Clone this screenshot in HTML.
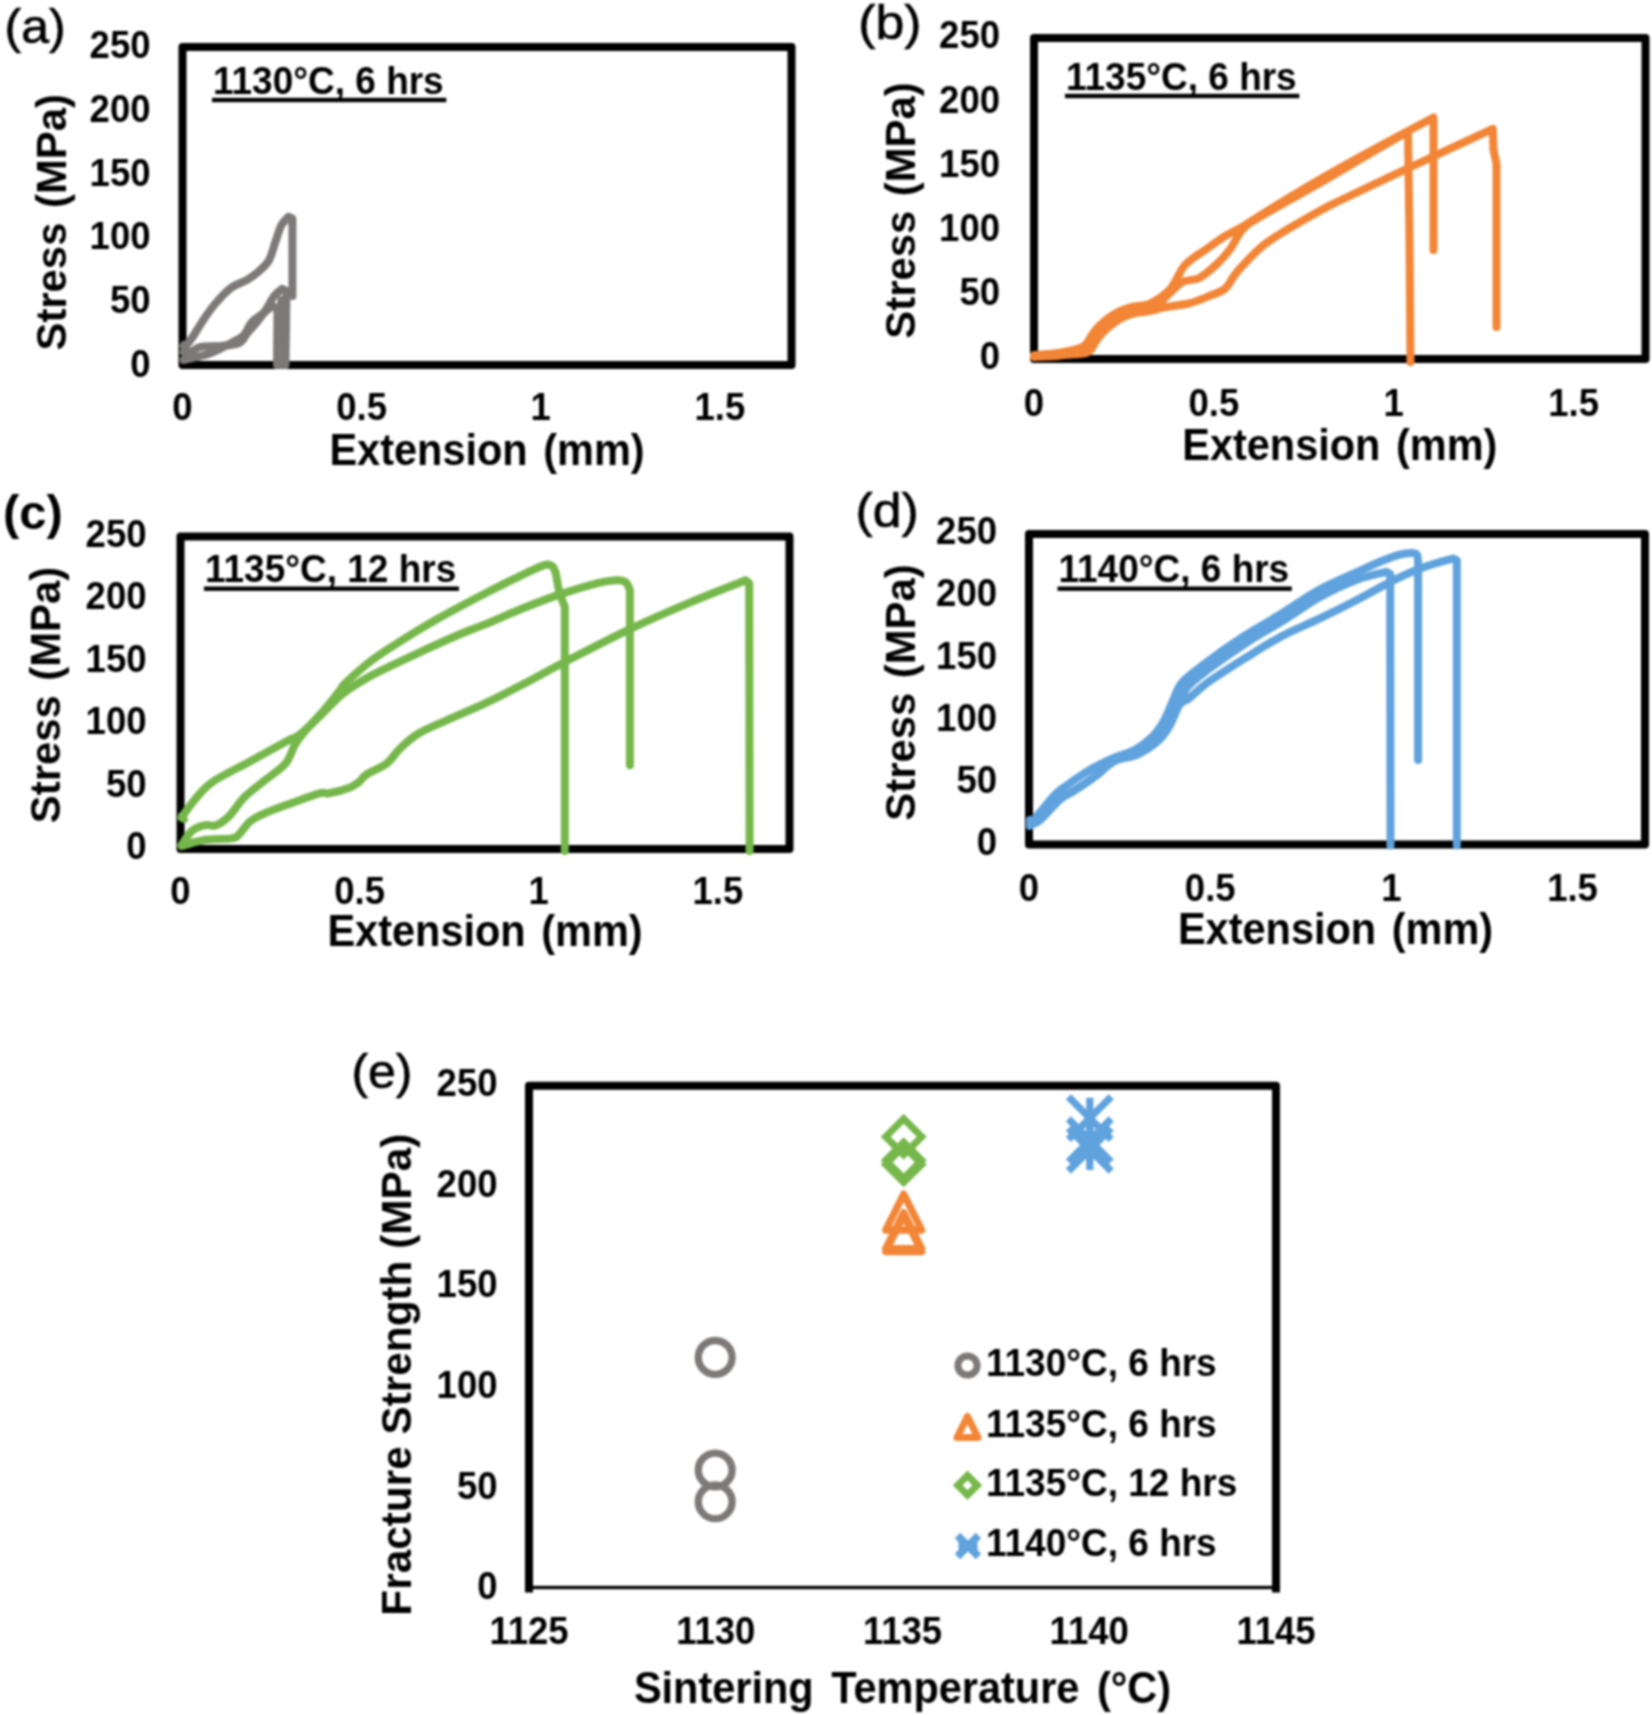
<!DOCTYPE html>
<html lang="en"><head><meta charset="utf-8"><title>Figure</title>
<style>html,body{margin:0;padding:0;background:#fff}svg{display:block}#wrap{width:1652px;height:1715px;overflow:hidden;filter:blur(0.8px)}text{font-family:"Liberation Sans",sans-serif}</style></head>
<body>
<div id="wrap">
<svg width="1652" height="1715" viewBox="0 0 1652 1715" font-family="'Liberation Sans', sans-serif" fill="#000">
<rect width="1652" height="1715" fill="#fff"/>
<g id="panel-a">
<rect x="182.5" y="46.9" width="609.0" height="318.1" fill="none" stroke="#000" stroke-width="8" stroke-linejoin="round"/>
<text transform="translate(150.5,376.5) scale(1,1.06)" font-size="36.5" font-weight="bold" text-anchor="end">0</text>
<text transform="translate(150.5,312.9) scale(1,1.06)" font-size="36.5" font-weight="bold" text-anchor="end">50</text>
<text transform="translate(150.5,249.3) scale(1,1.06)" font-size="36.5" font-weight="bold" text-anchor="end">100</text>
<text transform="translate(150.5,185.6) scale(1,1.06)" font-size="36.5" font-weight="bold" text-anchor="end">150</text>
<text transform="translate(150.5,122.0) scale(1,1.06)" font-size="36.5" font-weight="bold" text-anchor="end">200</text>
<text transform="translate(150.5,58.4) scale(1,1.06)" font-size="36.5" font-weight="bold" text-anchor="end">250</text>
<text transform="translate(182.5,420.0) scale(1,1.06)" font-size="36.5" font-weight="bold" text-anchor="middle">0</text>
<text transform="translate(361.6,420.0) scale(1,1.06)" font-size="36.5" font-weight="bold" text-anchor="middle">0.5</text>
<text transform="translate(540.7,420.0) scale(1,1.06)" font-size="36.5" font-weight="bold" text-anchor="middle">1</text>
<text transform="translate(719.9,420.0) scale(1,1.06)" font-size="36.5" font-weight="bold" text-anchor="middle">1.5</text>
<text transform="translate(487.0,465.0) scale(1,1.06)" font-size="41.5" font-weight="bold" text-anchor="middle" word-spacing="4">Extension (mm)</text>
<text transform="translate(66.2,222.3) rotate(-90) scale(1.008,1.02)" font-size="41.5" font-weight="bold" text-anchor="middle" word-spacing="3">Stress (MPa)</text>
<text transform="translate(4.6,43.2) scale(1,0.97)" font-size="50" font-weight="normal" text-anchor="start" stroke="#000" stroke-width="0.7">(a)</text>
<text transform="translate(213.0,93.5) scale(1,1.06)" font-size="37" font-weight="bold" text-anchor="start">1130°C, 6 hrs</text>
<rect x="212.0" y="97.8" width="234.3" height="4.4" fill="#000"/>
<path d="M183.5,352.0 C183.9,351.0 184.3,348.7 186.0,346.0 C187.7,343.3 190.6,340.1 193.5,335.7 C196.4,331.3 200.0,324.8 203.7,319.4 C207.4,313.9 211.3,308.3 215.9,303.0 C220.5,297.7 225.9,291.7 231.2,287.8 C236.5,283.9 242.8,282.5 247.6,279.6 C252.4,276.7 256.2,273.6 259.8,270.4 C263.4,267.2 266.4,264.8 269.0,260.2 C271.6,255.6 273.1,248.7 275.1,242.9 C277.1,237.1 279.0,229.8 281.2,225.5 C283.4,221.2 287.2,218.2 288.4,216.8 L292.4,218.4 L292.4,295.9" fill="none" stroke="#7d7978" stroke-width="8" stroke-linejoin="round" stroke-linecap="round"/>
<path d="M183.5,346.0 C184.6,347.0 187.2,351.9 190.0,352.0 C192.8,352.1 195.4,347.9 200.6,346.9 C205.8,345.9 214.5,346.6 221.0,345.9 C227.5,345.2 235.0,345.1 239.4,342.9 C243.8,340.7 244.7,336.1 247.6,332.7 C250.5,329.3 253.5,326.5 256.7,322.4 C259.9,318.3 264.0,312.6 266.9,308.2 C269.8,303.8 271.6,299.1 274.1,295.9 C276.7,292.7 280.9,290.0 282.2,288.8 L286.5,291.0 L285.5,365.0" fill="none" stroke="#7d7978" stroke-width="8" stroke-linejoin="round" stroke-linecap="round"/>
<path d="M183.5,360.0 C185.4,359.6 190.4,358.7 195.0,357.5 C199.6,356.3 204.8,355.4 210.8,353.0 C216.8,350.6 225.8,345.8 231.2,342.9 C236.6,340.0 240.1,339.1 243.5,335.7 C246.9,332.3 248.5,326.0 251.6,322.4 C254.7,318.8 258.4,317.0 261.8,314.3 C265.2,311.6 270.3,307.5 272.0,306.1 L277.5,308.0 L277.0,365.0" fill="none" stroke="#7d7978" stroke-width="8" stroke-linejoin="round" stroke-linecap="round"/>
<polyline points="281.3,300.0 281.3,365.0" fill="none" stroke="#7d7978" stroke-width="8" stroke-linejoin="round" stroke-linecap="round"/>
<polyline points="183.5,344.0 187.0,348.0" fill="none" stroke="#7d7978" stroke-width="6" stroke-linejoin="round" stroke-linecap="round"/>
</g>
<g id="panel-b">
<rect x="1034.0" y="38.0" width="611.5" height="321.0" fill="none" stroke="#000" stroke-width="8" stroke-linejoin="round"/>
<text transform="translate(1000.0,369.3) scale(1,1.06)" font-size="36.5" font-weight="bold" text-anchor="end">0</text>
<text transform="translate(1000.0,305.1) scale(1,1.06)" font-size="36.5" font-weight="bold" text-anchor="end">50</text>
<text transform="translate(1000.0,240.9) scale(1,1.06)" font-size="36.5" font-weight="bold" text-anchor="end">100</text>
<text transform="translate(1000.0,176.7) scale(1,1.06)" font-size="36.5" font-weight="bold" text-anchor="end">150</text>
<text transform="translate(1000.0,112.5) scale(1,1.06)" font-size="36.5" font-weight="bold" text-anchor="end">200</text>
<text transform="translate(1000.0,48.3) scale(1,1.06)" font-size="36.5" font-weight="bold" text-anchor="end">250</text>
<text transform="translate(1034.0,416.0) scale(1,1.06)" font-size="36.5" font-weight="bold" text-anchor="middle">0</text>
<text transform="translate(1213.9,416.0) scale(1,1.06)" font-size="36.5" font-weight="bold" text-anchor="middle">0.5</text>
<text transform="translate(1393.7,416.0) scale(1,1.06)" font-size="36.5" font-weight="bold" text-anchor="middle">1</text>
<text transform="translate(1573.6,416.0) scale(1,1.06)" font-size="36.5" font-weight="bold" text-anchor="middle">1.5</text>
<text transform="translate(1339.8,460.0) scale(1,1.06)" font-size="41.5" font-weight="bold" text-anchor="middle" word-spacing="4">Extension (mm)</text>
<text transform="translate(914.8,210.5) rotate(-90) scale(1.008,1.02)" font-size="41.5" font-weight="bold" text-anchor="middle" word-spacing="3">Stress (MPa)</text>
<text transform="translate(858.2,38.8) scale(1,0.94)" font-size="51.8" font-weight="normal" text-anchor="start" stroke="#000" stroke-width="0.7">(b)</text>
<text transform="translate(1066.0,89.5) scale(1,1.06)" font-size="37" font-weight="bold" text-anchor="start">1135°C, 6 hrs</text>
<rect x="1065.0" y="93.8" width="234.3" height="4.4" fill="#000"/>
<path d="M1034.0,355.2 C1038.3,354.8 1051.8,354.2 1060.0,352.8 C1068.2,351.4 1077.6,349.8 1082.9,346.8 C1088.2,343.8 1089.3,338.5 1092.0,335.0 C1094.7,331.5 1096.3,328.9 1099.3,325.9 C1102.3,322.9 1106.6,319.4 1110.2,316.8 C1113.8,314.2 1117.4,312.2 1121.0,310.5 C1124.6,308.8 1127.2,308.0 1132.0,306.8 C1136.8,305.6 1143.6,306.5 1150.0,303.5 C1156.4,300.5 1164.5,295.4 1170.3,289.0 C1176.1,282.6 1178.8,272.0 1184.8,265.3 C1190.8,258.6 1199.9,253.8 1206.6,249.0 C1213.2,244.2 1218.3,240.2 1224.7,236.3 C1231.1,232.4 1235.6,230.9 1244.7,225.4 C1253.8,219.9 1265.8,211.8 1279.2,203.6 C1292.6,195.4 1308.2,186.0 1325.0,176.4 C1341.8,166.8 1361.9,155.8 1380.0,146.0 C1398.1,136.2 1424.6,122.2 1433.5,117.5 L1433.5,250.0" fill="none" stroke="#f28536" stroke-width="8" stroke-linejoin="round" stroke-linecap="round"/>
<path d="M1034.0,356.5 C1038.3,356.2 1051.2,355.1 1060.0,354.5 C1068.8,353.9 1080.9,355.1 1086.9,352.8 C1092.9,350.6 1093.3,344.5 1096.0,341.0 C1098.7,337.5 1100.3,334.9 1103.3,331.9 C1106.3,328.9 1110.6,325.4 1114.2,322.8 C1117.8,320.2 1121.4,318.2 1125.0,316.5 C1128.6,314.8 1131.5,314.0 1136.0,312.8 C1140.5,311.6 1146.4,312.9 1152.1,309.5 C1157.8,306.1 1165.1,297.2 1170.3,292.6 C1175.5,288.0 1178.2,284.1 1183.0,281.7 C1187.8,279.3 1193.5,281.0 1199.3,278.0 C1205.0,275.0 1212.3,268.3 1217.5,263.5 C1222.7,258.7 1226.0,254.8 1230.2,249.0 C1234.4,243.2 1237.8,234.4 1242.9,229.0 C1248.0,223.6 1247.3,224.5 1261.0,216.3 C1274.7,208.1 1306.8,190.5 1325.0,180.0 C1343.2,169.5 1356.2,161.6 1370.0,153.5 C1383.8,145.4 1401.7,135.2 1408.0,131.5 L1409.5,240.0 L1410.5,362.0" fill="none" stroke="#f28536" stroke-width="8" stroke-linejoin="round" stroke-linecap="round"/>
<path d="M1034.0,357.0 C1038.3,356.8 1051.4,356.5 1060.0,355.5 C1068.6,354.5 1079.7,353.6 1085.4,350.8 C1091.2,348.1 1091.8,342.5 1094.5,339.0 C1097.2,335.5 1098.8,332.9 1101.8,329.9 C1104.8,326.9 1109.1,323.4 1112.7,320.8 C1116.3,318.2 1119.9,316.2 1123.5,314.5 C1127.1,312.8 1129.7,311.5 1134.5,310.8 C1139.3,310.1 1147.3,311.0 1152.1,310.5 C1156.8,310.0 1157.0,308.8 1163.0,307.6 C1169.0,306.4 1181.1,305.2 1188.4,303.5 C1195.7,301.8 1200.5,299.5 1206.6,297.1 C1212.6,294.7 1220.2,292.5 1224.7,289.0 C1229.2,285.5 1230.8,280.1 1233.8,276.2 C1236.8,272.2 1238.4,270.1 1242.9,265.3 C1247.4,260.5 1255.0,252.3 1261.0,247.2 C1267.0,242.1 1273.1,238.4 1279.2,234.5 C1285.3,230.6 1289.8,228.0 1297.4,223.6 C1305.0,219.2 1318.1,211.9 1325.0,208.1 C1331.9,204.3 1324.2,208.1 1339.0,201.0 C1353.8,193.9 1388.4,177.5 1414.0,165.5 C1439.6,153.5 1479.6,134.9 1492.8,128.8 L1493.5,150.0 L1496.5,164.0 L1496.5,327.0" fill="none" stroke="#f28536" stroke-width="8" stroke-linejoin="round" stroke-linecap="round"/>
</g>
<g id="panel-c">
<rect x="180.5" y="536.5" width="609.0" height="312.5" fill="none" stroke="#000" stroke-width="8" stroke-linejoin="round"/>
<text transform="translate(146.5,859.3) scale(1,1.06)" font-size="36.5" font-weight="bold" text-anchor="end">0</text>
<text transform="translate(146.5,796.8) scale(1,1.06)" font-size="36.5" font-weight="bold" text-anchor="end">50</text>
<text transform="translate(146.5,734.3) scale(1,1.06)" font-size="36.5" font-weight="bold" text-anchor="end">100</text>
<text transform="translate(146.5,671.8) scale(1,1.06)" font-size="36.5" font-weight="bold" text-anchor="end">150</text>
<text transform="translate(146.5,609.3) scale(1,1.06)" font-size="36.5" font-weight="bold" text-anchor="end">200</text>
<text transform="translate(146.5,546.8) scale(1,1.06)" font-size="36.5" font-weight="bold" text-anchor="end">250</text>
<text transform="translate(180.5,904.0) scale(1,1.06)" font-size="36.5" font-weight="bold" text-anchor="middle">0</text>
<text transform="translate(359.6,904.0) scale(1,1.06)" font-size="36.5" font-weight="bold" text-anchor="middle">0.5</text>
<text transform="translate(538.7,904.0) scale(1,1.06)" font-size="36.5" font-weight="bold" text-anchor="middle">1</text>
<text transform="translate(717.9,904.0) scale(1,1.06)" font-size="36.5" font-weight="bold" text-anchor="middle">1.5</text>
<text transform="translate(485.0,946.0) scale(1,1.06)" font-size="41.5" font-weight="bold" text-anchor="middle" word-spacing="4">Extension (mm)</text>
<text transform="translate(60.0,695.0) rotate(-90) scale(1.008,1.02)" font-size="41.5" font-weight="bold" text-anchor="middle" word-spacing="3">Stress (MPa)</text>
<text transform="translate(2.9,529.4) scale(1,1.0)" font-size="49" font-weight="bold" text-anchor="start">(c)</text>
<text transform="translate(205.0,582.2) scale(1,1.06)" font-size="37" font-weight="bold" text-anchor="start">1135°C, 12 hrs</text>
<rect x="204.0" y="586.5" width="254.9" height="4.4" fill="#000"/>
<path d="M181.6,817.7 C183.6,814.9 188.7,806.8 193.8,800.8 C199.0,794.8 203.1,788.6 212.5,782.0 C221.9,775.4 237.5,768.3 250.0,761.4 C262.5,754.5 279.5,745.2 287.6,740.8 C295.8,736.4 293.9,739.0 298.9,735.2 C303.9,731.5 311.4,724.2 317.6,718.3 C323.9,712.3 331.4,704.2 336.4,699.5 C341.4,694.8 341.7,694.2 347.6,690.1 C353.5,686.0 360.1,681.4 372.0,675.1 C383.9,668.9 404.9,659.2 419.0,652.6 C433.1,646.0 445.5,640.4 456.5,635.7 C467.5,631.0 474.0,628.9 485.0,624.4 C496.0,619.9 510.0,613.5 522.5,608.5 C535.0,603.5 547.5,598.6 560.0,594.4 C572.5,590.2 588.2,585.6 597.6,583.2 C607.0,580.9 611.7,580.5 616.4,580.3 C621.1,580.1 623.5,580.6 625.7,582.2 C628.0,583.8 629.2,588.7 629.9,590.0 L629.9,765.2" fill="none" stroke="#76b74b" stroke-width="8" stroke-linejoin="round" stroke-linecap="round"/>
<polyline points="181.5,815.5 184.5,819.5" fill="none" stroke="#76b74b" stroke-width="7" stroke-linejoin="round" stroke-linecap="round"/>
<path d="M181.6,845.0 C183.3,842.6 188.0,834.2 191.9,830.9 C195.8,827.6 200.9,826.2 205.0,825.2 C209.1,824.2 212.2,826.8 216.3,825.2 C220.4,823.7 224.7,820.6 229.4,815.9 C234.1,811.2 238.4,803.0 244.4,797.1 C250.4,791.2 258.2,785.8 265.1,780.2 C272.0,774.6 280.7,769.2 285.7,763.3 C290.7,757.3 291.7,750.1 295.1,744.5 C298.6,738.9 301.4,735.4 306.4,729.5 C311.4,723.6 319.5,715.5 325.1,708.9 C330.7,702.3 336.7,694.5 340.1,690.1 C343.6,685.7 340.5,687.6 345.8,682.6 C351.1,677.6 362.9,667.0 372.0,660.1 C381.1,653.2 389.2,648.2 400.2,641.3 C411.1,634.4 423.6,626.8 437.7,618.8 C451.8,610.8 472.4,600.1 485.0,593.5 C497.6,586.9 503.7,583.9 513.1,579.4 C522.5,574.9 535.0,568.6 541.3,566.3 C547.6,563.9 548.4,564.4 550.7,565.3 C553.1,566.2 554.0,567.7 555.4,571.9 C556.8,576.1 557.5,584.9 559.1,590.7 C560.7,596.6 563.8,604.3 564.8,607.0 L564.8,851.0" fill="none" stroke="#76b74b" stroke-width="8" stroke-linejoin="round" stroke-linecap="round"/>
<path d="M181.6,846.0 C185.2,845.0 194.8,841.5 203.1,840.2 C211.4,838.9 225.4,839.3 231.3,838.4 C237.2,837.5 235.7,837.4 238.8,834.6 C241.9,831.8 245.9,824.9 250.0,821.5 C254.1,818.1 256.9,816.8 263.2,814.0 C269.5,811.2 278.2,808.1 287.6,804.6 C297.0,801.1 312.6,795.2 319.5,793.3 C326.4,791.4 323.9,794.2 328.9,793.3 C333.9,792.4 344.5,789.6 349.5,787.7 C354.5,785.8 356.1,784.3 358.9,782.1 C361.7,779.9 361.7,777.7 366.4,774.6 C371.1,771.5 381.4,767.7 387.0,763.3 C392.6,758.9 394.9,753.3 400.2,748.3 C405.5,743.3 411.2,738.0 419.0,733.3 C426.8,728.6 436.1,725.1 447.1,720.1 C458.1,715.1 472.4,709.2 485.0,703.3 C497.6,697.4 509.2,691.4 522.5,684.5 C535.8,677.6 546.9,671.2 564.8,662.0 C582.7,652.8 608.8,639.1 629.9,629.1 C651.0,619.1 672.1,610.0 691.4,601.9 C710.7,593.8 736.7,583.9 745.8,580.3 L749.2,583.2 L749.6,851.0" fill="none" stroke="#76b74b" stroke-width="8" stroke-linejoin="round" stroke-linecap="round"/>
</g>
<g id="panel-d">
<rect x="1029.0" y="534.0" width="616.0" height="310.4" fill="none" stroke="#000" stroke-width="8" stroke-linejoin="round"/>
<text transform="translate(997.0,854.7) scale(1,1.06)" font-size="36.5" font-weight="bold" text-anchor="end">0</text>
<text transform="translate(997.0,792.6) scale(1,1.06)" font-size="36.5" font-weight="bold" text-anchor="end">50</text>
<text transform="translate(997.0,730.5) scale(1,1.06)" font-size="36.5" font-weight="bold" text-anchor="end">100</text>
<text transform="translate(997.0,668.5) scale(1,1.06)" font-size="36.5" font-weight="bold" text-anchor="end">150</text>
<text transform="translate(997.0,606.4) scale(1,1.06)" font-size="36.5" font-weight="bold" text-anchor="end">200</text>
<text transform="translate(997.0,544.3) scale(1,1.06)" font-size="36.5" font-weight="bold" text-anchor="end">250</text>
<text transform="translate(1029.0,901.0) scale(1,1.06)" font-size="36.5" font-weight="bold" text-anchor="middle">0</text>
<text transform="translate(1210.2,901.0) scale(1,1.06)" font-size="36.5" font-weight="bold" text-anchor="middle">0.5</text>
<text transform="translate(1391.4,901.0) scale(1,1.06)" font-size="36.5" font-weight="bold" text-anchor="middle">1</text>
<text transform="translate(1572.5,901.0) scale(1,1.06)" font-size="36.5" font-weight="bold" text-anchor="middle">1.5</text>
<text transform="translate(1335.5,943.8) scale(1,1.06)" font-size="41.5" font-weight="bold" text-anchor="middle" word-spacing="4">Extension (mm)</text>
<text transform="translate(914.8,692.5) rotate(-90) scale(1.008,1.02)" font-size="41.5" font-weight="bold" text-anchor="middle" word-spacing="3">Stress (MPa)</text>
<text transform="translate(855.5,526.7) scale(1,0.94)" font-size="51.8" font-weight="normal" text-anchor="start" stroke="#000" stroke-width="0.7">(d)</text>
<text transform="translate(1058.5,582.2) scale(1,1.06)" font-size="37" font-weight="bold" text-anchor="start">1140°C, 6 hrs</text>
<rect x="1057.5" y="586.5" width="234.3" height="4.4" fill="#000"/>
<path d="M1030.7,822.6 C1031.7,821.5 1032.9,820.5 1037.0,815.9 C1041.0,811.2 1050.1,799.8 1055.2,794.6 C1060.3,789.5 1063.6,787.9 1067.6,784.8 C1071.6,781.8 1075.0,779.3 1079.4,776.5 C1083.8,773.6 1088.3,770.7 1093.9,767.6 C1099.6,764.6 1106.3,761.1 1113.1,758.2 C1120.0,755.2 1128.5,753.3 1135.1,749.7 C1141.7,746.1 1148.1,741.0 1152.8,736.4 C1157.5,731.8 1160.0,727.9 1163.3,722.1 C1166.6,716.3 1169.4,708.4 1172.5,701.8 C1175.7,695.1 1176.8,688.6 1182.4,682.2 C1187.9,675.7 1195.5,670.6 1205.7,663.0 C1215.8,655.4 1230.8,644.8 1243.3,636.7 C1255.9,628.5 1268.2,621.9 1280.9,614.0 C1293.7,606.1 1307.4,596.2 1320.0,589.3 C1332.6,582.4 1346.2,577.0 1356.3,572.4 C1366.4,567.8 1373.4,564.4 1380.5,561.5 C1387.6,558.6 1393.5,556.2 1398.7,554.8 C1404.0,553.4 1409.0,553.0 1412.0,553.0 C1415.0,553.0 1415.9,553.3 1416.9,554.8 C1417.9,556.3 1417.9,560.8 1418.1,562.0 L1418.1,760.0" fill="none" stroke="#5fa2dd" stroke-width="8" stroke-linejoin="round" stroke-linecap="round"/>
<path d="M1031.9,824.2 C1033.4,823.4 1036.0,823.6 1040.6,819.5 C1045.3,815.4 1054.5,804.2 1059.8,799.6 C1065.1,794.9 1068.3,794.4 1072.4,791.8 C1076.5,789.1 1080.1,786.9 1084.4,783.9 C1088.7,781.0 1093.1,777.8 1098.1,774.0 C1103.1,770.2 1107.9,764.3 1114.5,761.0 C1121.0,757.8 1130.3,757.6 1137.5,754.3 C1144.6,751.0 1152.1,746.2 1157.4,741.4 C1162.8,736.6 1165.9,731.8 1169.5,725.7 C1173.1,719.6 1176.0,711.3 1179.1,704.8 C1182.1,698.4 1182.7,692.9 1187.8,686.8 C1193.0,680.8 1199.9,675.8 1209.7,668.4 C1219.6,661.0 1234.6,650.5 1247.1,642.3 C1259.5,634.2 1272.3,627.4 1284.5,619.8 C1296.6,612.3 1308.0,603.6 1320.0,597.0 C1332.0,590.4 1345.2,584.2 1356.3,580.0 C1367.4,575.8 1381.5,573.2 1386.6,571.8 L1390.2,574.2 L1390.5,845.4" fill="none" stroke="#5fa2dd" stroke-width="8" stroke-linejoin="round" stroke-linecap="round"/>
<path d="M1031.9,824.2 C1033.4,823.4 1036.0,823.6 1040.6,819.5 C1045.3,815.4 1054.5,804.2 1059.8,799.6 C1065.1,794.9 1068.3,794.4 1072.4,791.8 C1076.5,789.1 1080.1,786.9 1084.4,783.9 C1088.7,781.0 1093.1,777.8 1098.1,774.0 C1103.1,770.2 1107.9,764.3 1114.5,761.0 C1121.0,757.8 1130.3,757.6 1137.5,754.3 C1144.6,751.0 1152.1,746.2 1157.4,741.4 C1162.8,736.6 1165.9,731.8 1169.5,725.7 C1173.1,719.6 1175.8,709.4 1179.1,704.8 C1182.3,700.3 1184.1,702.2 1188.9,698.5 C1193.7,694.8 1198.3,689.3 1207.7,682.6 C1217.1,675.9 1232.7,666.0 1245.2,658.2 C1257.7,650.4 1270.2,642.3 1282.7,635.7 C1295.2,629.1 1307.7,624.3 1320.0,618.4 C1332.3,612.5 1344.2,606.5 1356.3,600.2 C1368.4,593.9 1381.5,586.2 1392.6,580.8 C1403.7,575.3 1412.8,571.2 1422.9,567.5 C1433.0,563.8 1448.2,560.0 1453.2,558.5 L1456.8,560.3 L1456.8,845.4" fill="none" stroke="#5fa2dd" stroke-width="8" stroke-linejoin="round" stroke-linecap="round"/>
<polyline points="1029.5,819.5 1029.5,826.5" fill="none" stroke="#5fa2dd" stroke-width="7" stroke-linejoin="round" stroke-linecap="round"/>
</g>
<g id="panel-e">
<circle cx="715.2" cy="1357.4" r="16.9" fill="none" stroke="#7d7978" stroke-width="7.3"/>
<circle cx="715.2" cy="1470.0" r="16.9" fill="none" stroke="#7d7978" stroke-width="7.3"/>
<circle cx="715.2" cy="1501.8" r="16.9" fill="none" stroke="#7d7978" stroke-width="7.3"/>
<polygon points="903.7,1194.1 921.7,1230.1 885.7,1230.1" fill="none" stroke="#f28536" stroke-width="7.2" stroke-linejoin="round"/>
<polygon points="903.7,1212.6 921.7,1248.6 885.7,1248.6" fill="none" stroke="#f28536" stroke-width="7.2" stroke-linejoin="round"/>
<polygon points="903.7,1215.6 921.7,1251.6 885.7,1251.6" fill="none" stroke="#f28536" stroke-width="7.2" stroke-linejoin="round"/>
<polygon points="903.7,1118.7 921.7,1136.7 903.7,1154.7 885.7,1136.7" fill="none" stroke="#76b74b" stroke-width="7" stroke-linejoin="miter"/>
<polygon points="903.7,1142.2 921.7,1160.2 903.7,1178.2 885.7,1160.2" fill="none" stroke="#76b74b" stroke-width="7" stroke-linejoin="miter"/>
<polygon points="903.7,1146.4 921.7,1164.4 903.7,1182.4 885.7,1164.4" fill="none" stroke="#76b74b" stroke-width="7" stroke-linejoin="miter"/>
<path d="M1068.4,1096.7L1111.2,1139.5M1068.4,1139.5L1111.2,1096.7M1089.8,1097.7L1089.8,1138.5" fill="none" stroke="#5fa2dd" stroke-width="7.2" stroke-linecap="butt"/>
<path d="M1068.4,1118.9L1111.2,1161.7M1068.4,1161.7L1111.2,1118.9M1089.8,1119.9L1089.8,1160.7" fill="none" stroke="#5fa2dd" stroke-width="7.2" stroke-linecap="butt"/>
<path d="M1068.4,1128.3L1111.2,1171.1M1068.4,1171.1L1111.2,1128.3M1089.8,1129.3L1089.8,1170.1" fill="none" stroke="#5fa2dd" stroke-width="7.2" stroke-linecap="butt"/>
<path d="M529.0,1592.5 L529.0,1085.75 L1276.0,1085.75 L1276.0,1592.5" fill="none" stroke="#000" stroke-width="8" stroke-linejoin="round"/>
<rect x="529.0" y="1585.85" width="747.0" height="3.3" fill="#000"/>
<text transform="translate(497.5,1599.0) scale(1,1.06)" font-size="36.5" font-weight="bold" text-anchor="end">0</text>
<text transform="translate(497.5,1498.5) scale(1,1.06)" font-size="36.5" font-weight="bold" text-anchor="end">50</text>
<text transform="translate(497.5,1397.8) scale(1,1.06)" font-size="36.5" font-weight="bold" text-anchor="end">100</text>
<text transform="translate(497.5,1297.2) scale(1,1.06)" font-size="36.5" font-weight="bold" text-anchor="end">150</text>
<text transform="translate(497.5,1196.6) scale(1,1.06)" font-size="36.5" font-weight="bold" text-anchor="end">200</text>
<text transform="translate(497.5,1096.0) scale(1,1.06)" font-size="36.5" font-weight="bold" text-anchor="end">250</text>
<text transform="translate(529.0,1644.0) scale(1,1.06)" font-size="36.5" font-weight="bold" text-anchor="middle">1125</text>
<text transform="translate(715.8,1644.0) scale(1,1.06)" font-size="36.5" font-weight="bold" text-anchor="middle">1130</text>
<text transform="translate(902.5,1644.0) scale(1,1.06)" font-size="36.5" font-weight="bold" text-anchor="middle">1135</text>
<text transform="translate(1089.2,1644.0) scale(1,1.06)" font-size="36.5" font-weight="bold" text-anchor="middle">1140</text>
<text transform="translate(1276.0,1644.0) scale(1,1.06)" font-size="36.5" font-weight="bold" text-anchor="middle">1145</text>
<text transform="translate(902.5,1702.5) scale(1,1.06)" font-size="41.5" font-weight="bold" text-anchor="middle" word-spacing="6">Sintering Temperature (°C)</text>
<text transform="translate(410.9,1374.6) rotate(-90) scale(1.008,1.02)" font-size="42.0" font-weight="bold" text-anchor="middle" word-spacing="0">Fracture Strength (MPa)</text>
<text transform="translate(351.4,1088.4) scale(1,0.97)" font-size="50" font-weight="normal" text-anchor="start" stroke="#000" stroke-width="0.7">(e)</text>
<circle cx="967.5" cy="1365.5" r="9.6" fill="none" stroke="#7d7978" stroke-width="7"/>
<polygon points="967.5,1416.5 978.0,1437.5 957.0,1437.5" fill="none" stroke="#f28536" stroke-width="7" stroke-linejoin="round"/>
<polygon points="967.5,1475.5 977.3,1485.3 967.5,1495.1 957.7,1485.3" fill="none" stroke="#76b74b" stroke-width="7" stroke-linejoin="miter"/>
<path d="M957.5,1535.5L978.5,1556.5M957.5,1556.5L978.5,1535.5" fill="none" stroke="#5fa2dd" stroke-width="7.5" stroke-linecap="butt"/>
<path d="M958.5,1546L977.5,1546" stroke="#5fa2dd" stroke-width="9" fill="none"/>
<text transform="translate(986.0,1376.0) scale(1,1.06)" font-size="37" font-weight="bold" text-anchor="start">1130°C, 6 hrs</text>
<text transform="translate(986.0,1437.0) scale(1,1.06)" font-size="37" font-weight="bold" text-anchor="start">1135°C, 6 hrs</text>
<text transform="translate(986.0,1496.0) scale(1,1.06)" font-size="37" font-weight="bold" text-anchor="start">1135°C, 12 hrs</text>
<text transform="translate(986.0,1555.5) scale(1,1.06)" font-size="37" font-weight="bold" text-anchor="start">1140°C, 6 hrs</text>
</g>
</svg>
</div>
</body></html>
